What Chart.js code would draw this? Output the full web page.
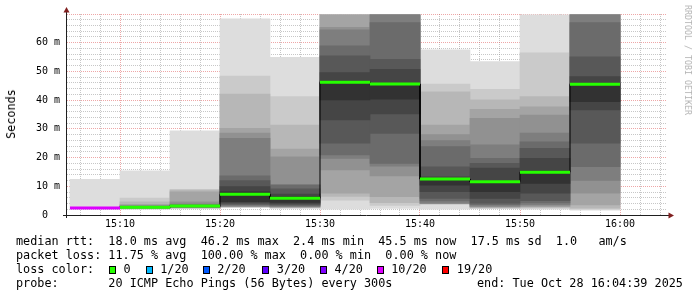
<!DOCTYPE html>
<html>
<head>
<meta charset="utf-8">
<script src="https://cdn.jsdelivr.net/npm/chart.js@4.4.1/dist/chart.umd.min.js"></script>
<style>
  html, body { margin: 0; padding: 0; background: #fff; }
  #wrap { position: relative; width: 697px; height: 297px; overflow: hidden; font-family: "DejaVu Sans Mono", monospace; }
  #c { position: absolute; left: 0; top: 0; }
  .txt { position: absolute; font-size: 11.8px; line-height: 14px; white-space: pre; color: #000; }
  .box { position: absolute; top: 266px; width: 5px; height: 6px; border: 1px solid #000; }
  .rot { position: absolute; white-space: pre; transform-origin: center center; }
</style>
</head>
<body>
<div id="wrap">
  <canvas id="c" width="697" height="297"></canvas>
  <div class="rot" id="ylabel" style="font-size:11.8px;color:#000;left:10.8px;top:114px;transform:translate(-50%,-50%) rotate(-90deg)">Seconds</div>
  <div class="rot" style="font-size:8.3px;color:#b4b4b4;left:687.5px;top:60px;transform:translate(-50%,-50%) rotate(90deg)">RRDTOOL / TOBI OETIKER</div>
  <div class="txt" style="left:16px;top:234px">median rtt:  18.0 ms avg  46.2 ms max  2.4 ms min  45.5 ms now  17.5 ms sd  1.0   am/s
packet loss: 11.75 % avg  100.00 % max  0.00 % min  0.00 % now
loss color:
probe:       20 ICMP Echo Pings (56 Bytes) every 300s</div>
  <div class="txt" style="left:477px;top:276px">end: Tue Oct 28 16:04:39 2025</div>
  <div id="losslegend"></div>
</div>
<script>
// time slots, minutes after 15:00 (each slot = 5 min, 20 pings)
const slotStart = [5, 10, 15, 20, 25, 30, 35, 40, 45, 50, 55];
const slotLength = 5;

// sorted ping rtt per slot in ms (read off the smoke bands)
// 15:05 lost half the pings, only the outer band shows
const rtt1505 = [2.2, null, null, null, null, null, null, null, null, null, null, null, null, null, null, null, null, null, null, 12.4];
const rtt1510 = [2.0, 2.1, 2.2, 2.3, 2.4, 2.45, 2.5, 2.55, 2.6, 2.65, 2.75, 2.8, 2.9, 3.0, 3.1, 3.3, 3.7, 4.6, 5.9, 15.4];
const rtt1515 = [2.2, 2.4, 2.5, 2.6, 2.7, 2.75, 2.8, 2.85, 2.9, 2.95, 3.1, 3.2, 3.3, 3.5, 3.8, 4.6, 8.1, 8.7, 8.9, 29.3];
const rtt1520 = [2.7, 2.75, 2.8, 2.9, 3.0, 3.2, 3.5, 3.8, 4.2, 4.6, 8.1, 9.9, 12.0, 13.6, 26.7, 28.5, 30.2, 42.1, 48.4, 68.3];
const rtt1525 = [2.3, 2.5, 2.6, 2.7, 2.8, 3.0, 3.2, 3.5, 3.9, 4.4, 6.4, 7.3, 9.1, 10.4, 10.6, 20.3, 23.0, 31.3, 41.2, 54.9];
const rtt1530 = [2.0, 5.2, 6.5, 7.6, 15.7, 19.7, 20.9, 25.0, 33.1, 40.1, 46.6, 49.6, 55.4, 58.9, 64.5, 65.4, 69.7, 69.7, 69.7, 69.7];
const rtt1535 = [2.3, 3.3, 4.3, 6.4, 13.6, 17.0, 18.0, 28.4, 35.2, 40.3, 45.8, 50.7, 54.2, 67.0, 69.7, 69.7, 69.7, 69.7, 69.7, 69.7];
const rtt1540 = [2.0, 3.8, 3.9, 3.95, 4.0, 4.1, 4.9, 5.8, 8.1, 10.4, 12.8, 13.3, 16.8, 23.8, 25.9, 28.0, 31.3, 42.9, 45.6, 57.5];
const rtt1545 = [2.3, 2.4, 2.5, 2.7, 2.9, 3.2, 3.6, 4.1, 5.8, 8.1, 11.9, 16.3, 18.0, 19.7, 24.4, 33.7, 36.8, 40.1, 43.8, 53.4];
const rtt1550 = [2.0, 2.4, 2.6, 2.9, 3.2, 3.6, 4.2, 5.0, 7.6, 11.0, 15.4, 19.7, 23.2, 25.5, 28.5, 34.8, 37.7, 41.2, 56.5, 69.7];
const rtt1555 = [1.7, 2.0, 2.4, 3.5, 7.6, 12.0, 16.8, 25.0, 36.6, 39.5, 45.8, 48.2, 55.1, 67.0, 69.7, 69.7, 69.7, 69.7, 69.7, 69.7];
const pingsBySlot = [rtt1505, rtt1510, rtt1515, rtt1520, rtt1525, rtt1530, rtt1535, rtt1540, rtt1545, rtt1550, rtt1555];

const medianRtt = [2.4, 2.7, 3.1, 7.2, 5.8, 46.2, 45.6, 12.5, 11.6, 14.9, 45.5];
const lostPings = [10, 0, 0, 0, 0, 0, 0, 0, 0, 0, 0];

const xTickLabels = ['15:10', '15:20', '15:30', '15:40', '15:50', '16:00'];
const yTickLabels = ['0', '10 m', '20 m', '30 m', '40 m', '50 m', '60 m'];

const lossSteps = [0, 1, 2, 3, 4, 10, 19];
const lossNames = ['0', '1/20', '2/20', '3/20', '4/20', '10/20', '19/20'];
const lossColors = ['#26ff00', '#00b8ff', '#0059ff', '#5e00ff', '#7e00ff', '#dd00ff', '#ff0000'];

const PINGS = 20;
const HALF = PINGS / 2;

// x range shown (minutes after 15:00) and plot width in px
const xMin = 4.7, xMax = 64.7;
const plotLeft = 67, plotRight = 667;
const slotPx = slotLength * (plotRight - plotLeft) / (xMax - xMin);

function lossColor(lost) {
    let c = lossColors[0];
    lossSteps.forEach((s, i) => { if (lost >= s) c = lossColors[i]; });
    return c;
}

// legend row "loss color:"
const boxLeft = [109, 145.7, 202.7, 262.3, 320, 376.7, 442.3];
const lossLegend = document.getElementById('losslegend');
lossNames.forEach((name, i) => {
    const b = document.createElement('div');
    b.className = 'box';
    b.style.left = boxLeft[i] + 'px';
    b.style.background = lossColors[i];
    lossLegend.appendChild(b);
    const t = document.createElement('div');
    t.className = 'txt';
    t.style.left = (boxLeft[i] + 14.5) + 'px';
    t.style.top = '262px';
    t.textContent = name;
    lossLegend.appendChild(t);
});

// smoke: layer i spans ping i .. ping (21-i), darker towards the middle
const smokeSets = [];
for (let i = 0; i < HALF; i++) {
    const g = Math.floor(190 / HALF * (HALF - 1 - i)) + 50;
    const pts = [];
    slotStart.forEach((s, k) => {
        const lo = pingsBySlot[k][i];
        const hi = pingsBySlot[k][PINGS - 1 - i];
        if (lo != null && hi != null) pts.push({ x: s + slotLength / 2, y: [lo, hi] });
    });
    smokeSets.push({
        type: 'bar',
        data: pts,
        backgroundColor: `rgb(${g},${g},${g})`,
        borderWidth: 0,
        barThickness: slotPx,
        grouped: false,
        order: 2 + HALF - i
    });
}

// median line: thin black steps + thick loss-coloured pieces
const medianSteps = [];
const medianPieces = [];
slotStart.forEach((s, k) => {
    medianSteps.push({ x: s, y: medianRtt[k] }, { x: s + slotLength, y: medianRtt[k] });
    medianPieces.push({ x: s, y: medianRtt[k] }, { x: s + slotLength, y: medianRtt[k] });
    if (k < slotStart.length - 1) medianPieces.push({ x: s + slotLength, y: null });
});

const gridMinor = 'rgba(143,143,143,0.5)';
const gridMajor = 'rgba(222,79,79,0.5)';

const axisArrows = {
    id: 'axisArrows',
    afterDraw(chart) {
        const { ctx, chartArea: a } = chart;
        ctx.save();
        ctx.strokeStyle = '#1f1f1f';
        ctx.lineWidth = 1;
        ctx.beginPath();
        ctx.moveTo(a.left - 0.5, a.bottom + 3);
        ctx.lineTo(a.left - 0.5, a.top - 5);
        ctx.moveTo(a.left - 4, a.bottom + 0.5);
        ctx.lineTo(a.right + 3, a.bottom + 0.5);
        ctx.stroke();
        ctx.fillStyle = '#801f1f';
        ctx.beginPath();
        ctx.moveTo(a.left - 0.5, a.top - 7);
        ctx.lineTo(a.left - 3.5, a.top - 1.5);
        ctx.lineTo(a.left + 2.5, a.top - 1.5);
        ctx.closePath();
        ctx.fill();
        ctx.beginPath();
        ctx.moveTo(a.right + 7, a.bottom + 0.5);
        ctx.lineTo(a.right + 1.5, a.bottom - 2.5);
        ctx.lineTo(a.right + 1.5, a.bottom + 3.5);
        ctx.closePath();
        ctx.fill();
        ctx.restore();
    }
};

Chart.defaults.font.family = '"DejaVu Sans Mono", monospace';
Chart.defaults.color = '#000';

new Chart(document.getElementById('c').getContext('2d'), {
    type: 'bar',
    data: {
        datasets: [
            {
                type: 'line',
                data: medianPieces,
                borderWidth: 3,
                borderCapStyle: 'butt',
                pointRadius: 0,
                spanGaps: false,
                segment: {
                    borderColor: ctx => lossColor(lostPings[Math.floor(ctx.p0DataIndex / 3)])
                },
                borderColor: lossColors[0],
                order: 0
            },
            {
                type: 'line',
                data: medianSteps,
                borderColor: '#000',
                borderWidth: 1,
                pointRadius: 0,
                order: 1
            },
            ...smokeSets
        ]
    },
    options: {
        responsive: false,
        animation: false,
        events: [],
        layout: { padding: { left: 0, right: 697 - plotRight, top: 14, bottom: 0 } },
        plugins: { legend: { display: false }, tooltip: { enabled: false } },
        scales: {
            x: {
                type: 'linear',
                min: xMin,
                max: xMax,
                offset: false,
                z: 1,
                afterFit: s => { s.height = 82; },
                afterBuildTicks: s => {
                    const t = [];
                    for (let m = 6; m <= 64; m += 2) t.push({ value: m });
                    s.ticks = t;
                },
                grid: {
                    offset: false,
                    drawTicks: false,
                    color: ctx => (ctx.tick && ctx.tick.value % 10 === 0) ? gridMajor : gridMinor
                },
                border: { display: false, dash: [1, 1] },
                ticks: {
                    autoSkip: false,
                    maxRotation: 0,
                    minRotation: 0,
                    padding: 3,
                    font: { size: 10 },
                    callback: v => v % 10 === 0 ? xTickLabels[v / 10 - 1] : ''
                }
            },
            y: {
                min: 0,
                max: 70,
                z: 1,
                afterFit: s => { s.width = plotLeft; },
                grid: {
                    drawTicks: false,
                    color: ctx => (ctx.tick && ctx.tick.value % 10 === 0) ? gridMajor : gridMinor
                },
                border: { display: false, dash: [1, 1] },
                ticks: {
                    stepSize: 2,
                    autoSkip: false,
                    padding: 7,
                    font: { size: 10 },
                    callback: v => (v % 10 === 0 && v / 10 < yTickLabels.length)
                        ? yTickLabels[v / 10].padStart(2).padEnd(4) : ''
                }
            }
        }
    },
    plugins: [axisArrows]
});
</script>
</body>
</html>
